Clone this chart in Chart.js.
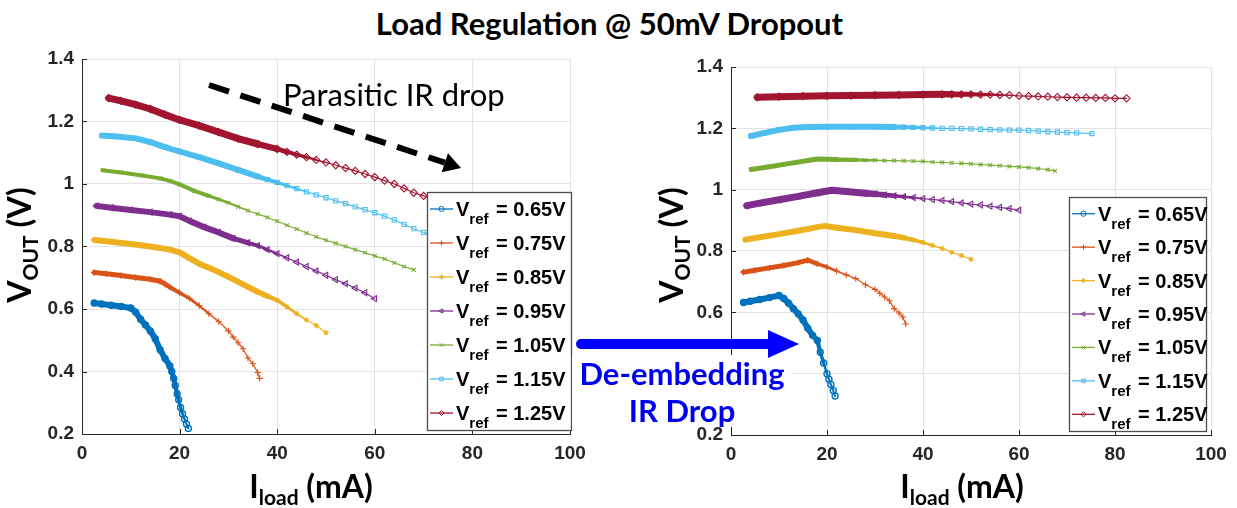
<!DOCTYPE html>
<html>
<head>
<meta charset="utf-8">
<script src="https://cdn.jsdelivr.net/npm/chart.js@4.4.1/dist/chart.umd.min.js"></script>
<style>
  body { margin: 0; background: #fff; width: 1237px; height: 508px; position: relative; overflow: hidden; }
  #title { position: absolute; left: 0; top: 6px; width: 1219px; text-align: center; font: bold 31px Lato, sans-serif; line-height: 34px; color: #000; }
  #leftChart { position: absolute; left: 0; top: 0; }
  #rightChart { position: absolute; left: 620px; top: 0; }
  #deembed { position: absolute; left: 572px; top: 355px; width: 220px; height: 72px; background: #fff; color: #0000f0;
             font: bold 31px Lato, sans-serif; line-height: 37px; text-align: center; }
  #arrow { position: absolute; left: 0; top: 0; }
</style>
</head>
<body>
<div id="title">Load Regulation @ 50mV Dropout</div>
<canvas id="leftChart" width="610" height="508"></canvas>
<canvas id="rightChart" width="617" height="508"></canvas>
<div id="deembed">De-embedding<br>IR Drop</div>
<svg id="arrow" width="1237" height="508">
  <line x1="581" y1="344" x2="772" y2="344" stroke="#0000ff" stroke-width="10" stroke-linecap="round"/>
  <polygon points="768,330 799,344 768,358" fill="#0000ff"/>
</svg>
<script>
// Vref values (legend)
const vrefLabels = ['0.65V', '0.75V', '0.85V', '0.95V', '1.05V', '1.15V', '1.25V'];

// left panel: measured Vout vs Iload, [mA, V]
const left065 = [[2.5,0.619],[4,0.616],[6,0.612],[8,0.608],[10,0.603],[11,0.59],[12,0.567],[13,0.549],[14,0.53],[15,0.505],[16,0.47],[17,0.442],[18,0.418],[18.4,0.4],[18.8,0.378],[19.1,0.355],[19.5,0.328],[19.8,0.31],[20.2,0.285],[20.6,0.265],[21,0.248],[21.4,0.232],[21.8,0.218]];
const left075 = [[2.5,0.717],[5,0.713],[8,0.707],[11,0.701],[14,0.695],[16,0.689],[17,0.68],[18,0.67],[20,0.652],[22,0.634],[24,0.611],[26,0.585],[28,0.56],[30,0.53],[31,0.51],[32,0.492],[33,0.473],[34,0.443],[35,0.425],[36,0.397],[36.4,0.378]];
const left085 = [[2.5,0.821],[6,0.815],[10,0.808],[14,0.8],[18,0.79],[20,0.781],[22,0.763],[24,0.745],[26,0.732],[28,0.718],[30,0.703],[32,0.687],[34,0.671],[36,0.655],[38,0.641],[40,0.628],[42,0.607],[44,0.585],[46,0.565],[48,0.547],[50,0.524]];
const left095 = [[3,0.93],[6,0.924],[10,0.917],[14,0.91],[18,0.902],[20,0.897],[22,0.882],[25,0.862],[28,0.845],[31,0.826],[34,0.812],[36,0.803],[38,0.79],[40,0.777],[42,0.764],[44,0.75],[46,0.736],[48,0.722],[50,0.708],[52,0.694],[54,0.681],[56,0.667],[58,0.652],[60,0.633]];
const left105 = [[4.2,1.044],[8,1.037],[12,1.028],[16,1.018],[18,1.01],[20,0.999],[23,0.978],[26,0.962],[28,0.951],[30,0.94],[32,0.927],[34,0.915],[36,0.904],[38,0.893],[40,0.881],[42,0.868],[44,0.856],[46,0.843],[48,0.831],[50,0.82],[52,0.81],[54,0.8],[56,0.79],[58,0.78],[60,0.77],[62,0.76],[64,0.748],[66,0.736],[68,0.725]];
const left115 = [[4.1,1.155],[7,1.152],[11,1.146],[14,1.134],[17,1.118],[20,1.104],[24,1.086],[28,1.066],[32,1.045],[36,1.024],[38,1.014],[40,1.005],[42,0.995],[44,0.985],[46,0.975],[48,0.965],[50,0.956],[52,0.946],[54,0.937],[56,0.927],[58,0.918],[60,0.908],[62,0.897],[64,0.885],[66,0.871],[68,0.857],[70,0.845],[72,0.835]];
const left125 = [[5.5,1.275],[8,1.266],[11,1.254],[14,1.24],[17,1.222],[20,1.205],[24,1.187],[28,1.166],[32,1.145],[36,1.128],[40,1.112],[42,1.103],[44,1.094],[46,1.086],[48,1.077],[50,1.069],[52,1.06],[54,1.051],[56,1.042],[58,1.032],[60,1.022],[62,1.011],[64,1.0],[66,0.986],[68,0.972],[70,0.962],[72,0.952]];

// right panel: after de-embedding IR drop
const right065 = [[2.6,0.632],[4,0.636],[6,0.642],[8,0.648],[10,0.655],[11,0.645],[12,0.63],[13,0.612],[14,0.595],[15,0.575],[16,0.548],[17,0.525],[18,0.508],[18.6,0.47],[19.3,0.435],[20,0.4],[20.4,0.382],[20.8,0.365],[21.3,0.345],[21.7,0.327]];
const right075 = [[2.6,0.731],[5,0.737],[8,0.745],[11,0.753],[14,0.762],[16,0.77],[18,0.758],[20,0.748],[22,0.735],[24,0.722],[26,0.71],[28,0.69],[30,0.675],[31,0.662],[32,0.65],[33,0.638],[34,0.612],[35,0.598],[35.8,0.585],[36.4,0.562]];
const right085 = [[3,0.837],[6,0.845],[10,0.855],[14,0.866],[18,0.878],[19.5,0.882],[22,0.876],[26,0.868],[30,0.858],[34,0.849],[36,0.843],[38,0.836],[40,0.828],[42,0.818],[44,0.808],[46,0.796],[48,0.785],[50,0.773]];
const right095 = [[3.3,0.948],[6,0.956],[10,0.967],[14,0.978],[18,0.99],[21,0.998],[24,0.994],[28,0.988],[30,0.986],[32,0.983],[34,0.98],[36,0.977],[38,0.974],[40,0.971],[42,0.968],[44,0.965],[46,0.961],[48,0.957],[50,0.953],[52,0.95],[54,0.946],[56,0.942],[58,0.938],[60,0.933]];
const right105 = [[4.2,1.066],[8,1.075],[12,1.085],[16,1.095],[18,1.1],[22,1.098],[26,1.097],[28,1.096],[30,1.096],[32,1.095],[34,1.095],[36,1.094],[38,1.093],[40,1.092],[42,1.09],[44,1.089],[46,1.087],[48,1.086],[50,1.084],[52,1.082],[54,1.08],[56,1.078],[58,1.076],[60,1.074],[62,1.072],[64,1.069],[66,1.065],[67.5,1.061]];
const right115 = [[4.2,1.175],[7,1.185],[10,1.195],[13,1.202],[16,1.204],[20,1.205],[25,1.205],[30,1.205],[34,1.204],[36,1.204],[38,1.203],[40,1.202],[42,1.201],[44,1.2],[46,1.2],[48,1.199],[50,1.198],[52,1.197],[54,1.196],[56,1.195],[58,1.194],[60,1.194],[62,1.193],[64,1.191],[66,1.189],[68,1.188],[70,1.186],[72,1.185],[75.2,1.183]];
const right125 = [[5.5,1.301],[10,1.303],[15,1.305],[20,1.306],[25,1.307],[30,1.308],[35,1.309],[40,1.31],[44,1.311],[46,1.311],[48,1.311],[50,1.311],[52,1.31],[54,1.31],[56,1.309],[58,1.308],[60,1.306],[62,1.305],[64,1.304],[66,1.303],[68,1.302],[70,1.301],[72,1.3],[74,1.3],[76,1.299],[78,1.299],[80,1.298],[82.4,1.298]];

// axis ticks
const xTicks = [0, 20, 40, 60, 80, 100];
const yTicks = [0.2, 0.4, 0.6, 0.8, 1, 1.2, 1.4];

// styling (matlab default colour order + markers)
const colors = ['#0072BD', '#D95319', '#EDB120', '#7E2F8E', '#77AC30', '#4DBEEE', '#A2142F'];
const markers = ['circle', 'cross', 'star', 'triangle', 'crossRot', 'rect', 'rectRot'];
const rotations = [0, 0, 0, -90, 0, 0, 0];
const markerSize = [3, 3.2, 2.6, 3.4, 2.8, 3, 3.6];
// markers pile up into a thick band below these currents, then thin out over "fade" mA
const denseLeft = [18, 16, 36, 30, 24, 34, 36];
const fadeLeft = [3, 12, 10, 12, 10, 12, 14];
const thickLeft = [6, 5, 6, 6, 4, 6, 7];
const denseRight = [17, 16, 34, 28, 22, 32, 44];
const fadeRight = [3, 8, 10, 12, 10, 12, 14];
const thickRight = [6, 5, 6, 7, 5, 6, 7];

const tickFont = { family: 'Liberation Sans, Arial, sans-serif', weight: 'bold', size: 19 };
const labelFamily = 'Lato, sans-serif';

function makeDatasets(series, dense, fade, thick) {
  return series.map((pts, i) => ({
    label: 'Vref = ' + vrefLabels[i],
    data: pts.map(p => ({ x: p[0], y: p[1] })),
    borderColor: colors[i],
    backgroundColor: 'rgba(0,0,0,0)',
    borderWidth: 1.2,
    borderCapStyle: 'round',
    borderJoinStyle: 'round',
    pointStyle: markers[i],
    pointRotation: rotations[i],
    pointRadius: markerSize[i],
    pointBorderWidth: i === 0 ? 1.4 : 1.1,
    pointBorderColor: colors[i],
    pointBackgroundColor: i === 2 ? colors[i] : 'rgba(0,0,0,0)',
    showLine: true,
    tension: 0,
    segment: {
      borderWidth: ctx => {
        const x = (ctx.p0.parsed.x + ctx.p1.parsed.x) / 2;
        const thin = i === 0 ? 2 : 1.2;
        if (x <= dense[i]) return thick[i];
        return Math.max(thin, thick[i] - (x - dense[i]) * (thick[i] - thin) / fade[i]);
      }
    }
  }));
}

// draw text made of parts with sub/normal sizes
function drawParts(ctx, parts, x, y, align) {
  let total = 0;
  parts.forEach(p => {
    ctx.font = 'bold ' + p.size + 'px ' + (p.family || labelFamily);
    p.w = ctx.measureText(p.t).width;
    total += p.w;
  });
  let cx = align === 'center' ? x - total / 2 : x;
  ctx.textAlign = 'left';
  ctx.textBaseline = 'alphabetic';
  parts.forEach(p => {
    ctx.font = 'bold ' + p.size + 'px ' + (p.family || labelFamily);
    ctx.fillText(p.t, cx, y + (p.dy || 0));
    cx += p.w;
  });
}

function decorPlugin(cfg) {
  return {
    id: 'decor',
    afterDraw(chart) {
      const ctx = chart.ctx;
      const area = chart.chartArea;
      const xs = chart.scales.x, ys = chart.scales.y;
      ctx.save();
      // inner tick marks
      ctx.strokeStyle = '#262626';
      ctx.lineWidth = 1;
      xTicks.forEach(t => {
        const px = Math.round(xs.getPixelForValue(t)) + 0.5;
        ctx.beginPath(); ctx.moveTo(px, area.bottom); ctx.lineTo(px, area.bottom - 5); ctx.stroke();
      });
      yTicks.forEach(t => {
        const py = Math.round(ys.getPixelForValue(t)) + 0.5;
        ctx.beginPath(); ctx.moveTo(area.left, py); ctx.lineTo(area.left + 5, py); ctx.stroke();
      });

      // axis titles
      ctx.fillStyle = '#000';
      drawParts(ctx, [{ t: 'I', size: 32 }, { t: 'load', size: 21, dy: 7 }, { t: ' (mA)', size: 32 }],
        cfg.xTitleX, 498, 'center');
      ctx.save();
      ctx.translate(cfg.yTitleX, 245);
      ctx.rotate(-Math.PI / 2);
      drawParts(ctx, [{ t: 'V', size: 32 }, { t: 'OUT', size: 21, dy: 7 }, { t: ' (V)', size: 32 }], 0, 0, 'center');
      ctx.restore();

      // legend
      const lg = cfg.legend;
      ctx.fillStyle = '#fff';
      ctx.fillRect(lg.x, lg.y, lg.w, lg.h);
      ctx.strokeStyle = '#4d4d4d';
      ctx.lineWidth = 1.3;
      ctx.strokeRect(lg.x + 0.5, lg.y + 0.5, lg.w, lg.h);
      const rowH = lg.h / 7;
      vrefLabels.forEach((lab, i) => {
        const cy = lg.y + rowH * (i + 0.5);
        const x0 = lg.x + 3;
        ctx.strokeStyle = colors[i];
        ctx.lineWidth = 1.3;
        ctx.beginPath(); ctx.moveTo(x0, cy); ctx.lineTo(x0 + 23, cy); ctx.stroke();
        ctx.fillStyle = i === 2 ? colors[i] : 'rgba(0,0,0,0)';
        ctx.lineWidth = 1;
        Chart.helpers.drawPoint(ctx, { pointStyle: markers[i], rotation: rotations[i], radius: 2.6, borderWidth: 1 }, x0 + 11.5, cy);
        ctx.fillStyle = '#000';
        const fam = 'Liberation Sans, Arial, sans-serif';
        drawParts(ctx, [{ t: 'V', size: 20, family: fam }, { t: 'ref', size: 15, dy: 8, family: fam }], x0 + 26, cy + 7, 'left');
        drawParts(ctx, [{ t: '= ' + lab, size: 20, family: fam }], x0 + 66, cy + 7, 'left');
      });

      // parasitic IR drop annotation (left panel only)
      if (cfg.parasitic) {
        const x1 = 209, y1 = 85, x2 = 461, y2 = 168;
        const ang = Math.atan2(y2 - y1, x2 - x1);
        const hx = x2 - 17 * Math.cos(ang), hy = y2 - 17 * Math.sin(ang);
        ctx.strokeStyle = '#000';
        ctx.lineWidth = 6;
        ctx.setLineDash([21, 12]);
        ctx.beginPath(); ctx.moveTo(x1, y1); ctx.lineTo(hx, hy); ctx.stroke();
        ctx.setLineDash([]);
        ctx.fillStyle = '#000';
        ctx.beginPath();
        ctx.moveTo(x2, y2);
        ctx.lineTo(hx + 10 * Math.sin(ang), hy - 10 * Math.cos(ang));
        ctx.lineTo(hx - 10 * Math.sin(ang), hy + 10 * Math.cos(ang));
        ctx.closePath(); ctx.fill();
        ctx.font = '31px ' + labelFamily;
        ctx.textAlign = 'left';
        ctx.textBaseline = 'alphabetic';
        ctx.fillText('Parasitic IR drop', 283, 106);
      }
      ctx.restore();
    }
  };
}

function makeChart(id, series, dense, fade, thick, lay, cfg) {
  return new Chart(document.getElementById(id), {
    type: 'scatter',
    data: { datasets: makeDatasets(series, dense, fade, thick) },
    options: {
      responsive: false,
      animation: false,
      layout: { padding: { left: 0, top: lay.top, right: lay.right, bottom: 0 } },
      plugins: { legend: { display: false }, tooltip: { enabled: false } },
      scales: {
        x: {
          type: 'linear', min: 0, max: 100,
          afterBuildTicks: s => { s.ticks = xTicks.map(v => ({ value: v })); },
          ticks: { font: tickFont, color: '#262626', padding: 8, maxRotation: 0 },
          grid: { color: '#e3e3e3', drawTicks: false },
          border: { color: '#262626', width: 1 },
          afterFit: s => { s.height = lay.xh; }
        },
        y: {
          type: 'linear', min: 0.2, max: 1.4,
          afterBuildTicks: s => { s.ticks = yTicks.map(v => ({ value: v })); },
          ticks: { font: tickFont, color: '#262626', padding: 8, callback: v => String(Math.round(v * 10) / 10) },
          grid: { color: '#e3e3e3', drawTicks: false },
          border: { color: '#262626', width: 1 },
          afterFit: s => { s.width = lay.yw; }
        }
      }
    },
    plugins: [decorPlugin(cfg)]
  });
}

makeChart('leftChart',
  [left065, left075, left085, left095, left105, left115, left125],
  denseLeft, fadeLeft, thickLeft,
  { top: 59, right: 40, xh: 74, yw: 82 },
  { xTitleX: 311, yTitleX: 31, legend: { x: 427, y: 192, w: 144, h: 238 }, parasitic: true });

makeChart('rightChart',
  [right065, right075, right085, right095, right105, right115, right125],
  denseRight, fadeRight, thickRight,
  { top: 67, right: 26, xh: 73, yw: 111 },
  { xTitleX: 342, yTitleX: 63, legend: { x: 449, y: 197, w: 137, h: 234 }, parasitic: false });
</script>
</body>
</html>
